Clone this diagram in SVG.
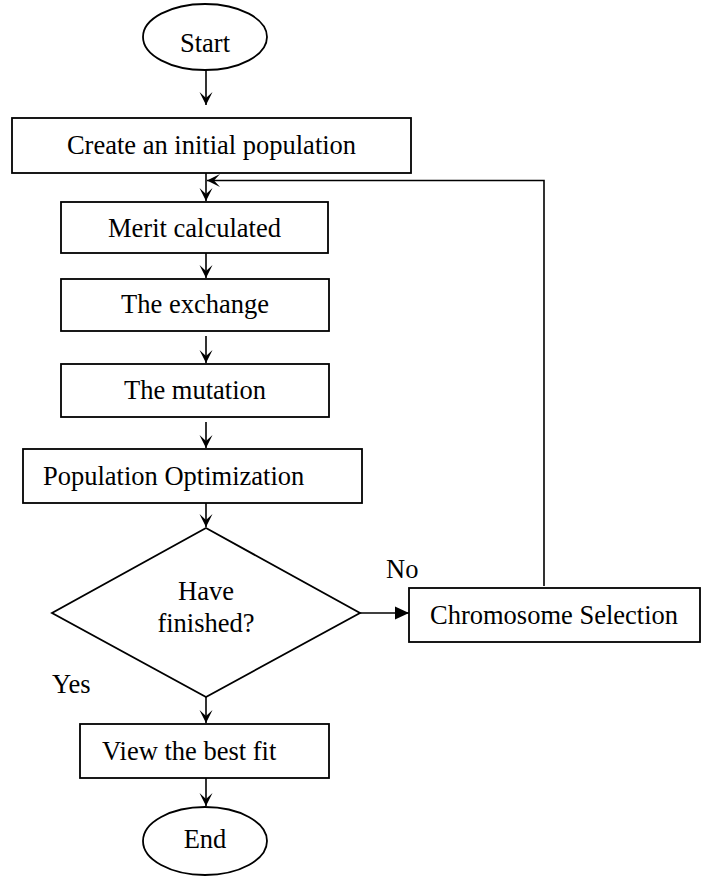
<svg xmlns="http://www.w3.org/2000/svg" width="702" height="876" viewBox="0 0 702 876">
<style>
.shape{fill:#fff;stroke:#000;stroke-width:1.8}
.conn{fill:none;stroke:#000;stroke-width:1.6}
text{font-family:"Liberation Serif","Times New Roman",serif;font-size:26.5px;fill:#000}
.c{text-anchor:middle}
</style>
<defs>
<marker id="stealth" markerUnits="userSpaceOnUse" markerWidth="14" markerHeight="14" refX="13" refY="7" orient="auto" viewBox="0 0 14 14">
<path d="M0,0.5 L13,7 L0,13.5 L6,7 z" fill="#000"/>
</marker>
<marker id="tri" markerUnits="userSpaceOnUse" markerWidth="14" markerHeight="14" refX="14" refY="7" orient="auto" viewBox="0 0 14 14">
<path d="M0,0.5 L14,7 L0,13.5 z" fill="#000"/>
</marker>
</defs>
<g id="connectors">
<line class="conn" x1="206" y1="70" x2="206" y2="105" marker-end="url(#stealth)"/>
<line class="conn" x1="206" y1="173" x2="206" y2="201" marker-end="url(#stealth)"/>
<line class="conn" x1="206" y1="253" x2="206" y2="278" marker-end="url(#stealth)"/>
<line class="conn" x1="206" y1="336" x2="206" y2="363" marker-end="url(#stealth)"/>
<line class="conn" x1="206" y1="422" x2="206" y2="448" marker-end="url(#stealth)"/>
<line class="conn" x1="206" y1="503" x2="206" y2="527" marker-end="url(#stealth)"/>
<line class="conn" x1="206" y1="697" x2="206" y2="723" marker-end="url(#stealth)"/>
<line class="conn" x1="206" y1="778" x2="206" y2="806" marker-end="url(#stealth)"/>
<line class="conn" x1="360" y1="613" x2="409" y2="613" marker-end="url(#tri)"/>
<polyline class="conn" points="544,586 544,180.5 207,180.5" marker-end="url(#stealth)"/>
</g>
<g id="start">
<ellipse class="shape" cx="205" cy="37" rx="62" ry="33"/>
<text class="c" x="205" y="52">Start</text>
</g>
<g id="create">
<rect class="shape" x="12" y="118" width="399" height="55"/>
<text class="c" x="211.5" y="154">Create an initial population</text>
</g>
<g id="merit">
<rect class="shape" x="61" y="202" width="267" height="51"/>
<text class="c" x="194.5" y="237">Merit calculated</text>
</g>
<g id="exchange">
<rect class="shape" x="61" y="279" width="268" height="52"/>
<text class="c" x="195" y="313">The exchange</text>
</g>
<g id="mutation">
<rect class="shape" x="61" y="364" width="268" height="53"/>
<text class="c" x="195" y="399">The mutation</text>
</g>
<g id="optimization">
<rect class="shape" x="23" y="449" width="339" height="54"/>
<text x="43" y="485">Population Optimization</text>
</g>
<g id="decision">
<polygon class="shape" points="206,528 360,613 206,697 52,613"/>
<text class="c" x="206" y="600">Have</text>
<text class="c" x="206" y="632">finished?</text>
<text x="386" y="578">No</text>
<text x="52" y="693">Yes</text>
</g>
<g id="selection">
<rect class="shape" x="409" y="588" width="291" height="54"/>
<text x="430" y="624">Chromosome Selection</text>
</g>
<g id="view">
<rect class="shape" x="80" y="724" width="249" height="54"/>
<text x="102" y="760">View the best fit</text>
</g>
<g id="end">
<ellipse class="shape" cx="205" cy="841" rx="62" ry="34"/>
<text class="c" x="205" y="848">End</text>
</g>
</svg>
